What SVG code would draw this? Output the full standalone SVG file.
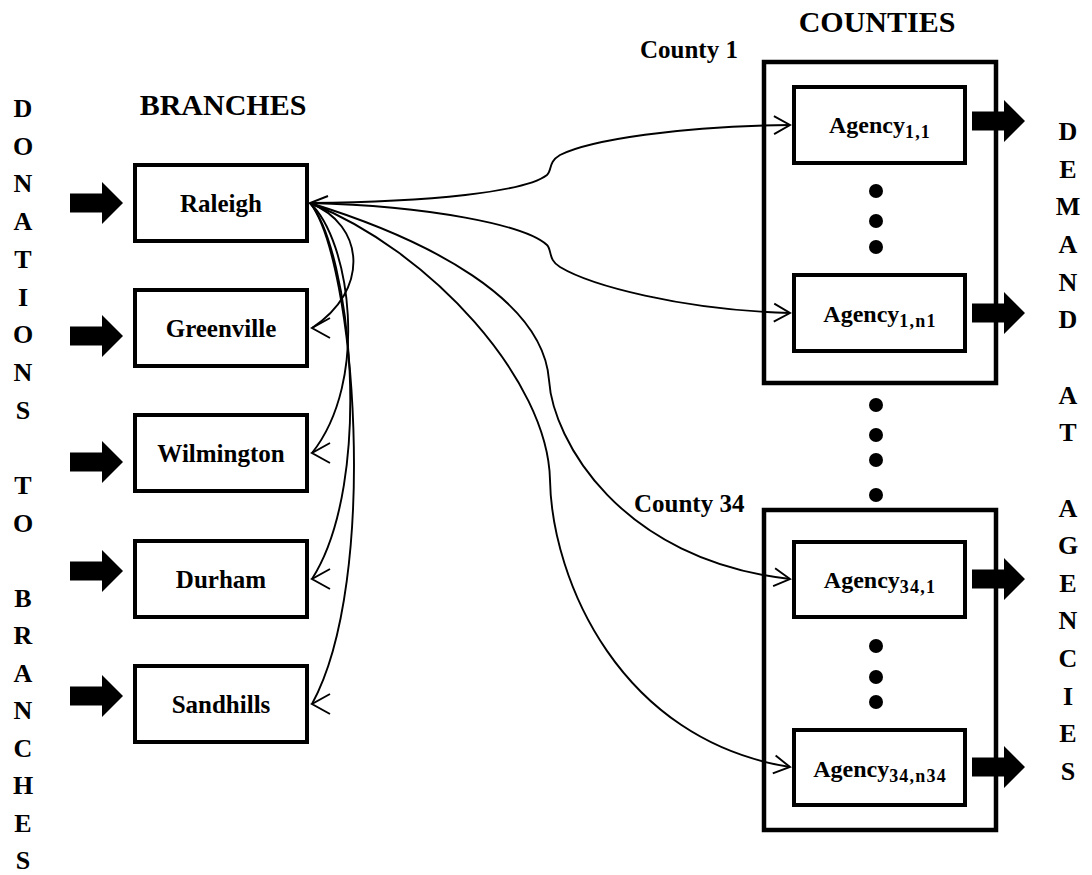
<svg xmlns="http://www.w3.org/2000/svg" xmlns:xlink="http://www.w3.org/1999/xlink" width="1092" height="875" viewBox="0 0 1092 875">
<style>
.box{fill:#fff;stroke:#000;stroke-width:4}
.cbox{fill:none;stroke:#000;stroke-width:4.5}
.t{font-family:"Liberation Serif","Times New Roman",serif;font-weight:bold;fill:#000}
.title{font-size:30px}
.node{font-size:25px}
.ag{font-size:24px}
.lab{font-size:25px}
.vl{font-size:26px}
.sub{font-size:18px;letter-spacing:1.2px}
.conn{fill:none;stroke:#000;stroke-width:1.9}
.dot{fill:#000}
</style>
<defs>
<path id="blk" d="M0,-9.5 H32 V-21 L53,0 L32,21 V9.5 H0 Z" fill="#000"/>
<marker id="toBranch" markerUnits="userSpaceOnUse" viewBox="-20 -15 40 30" markerWidth="40" markerHeight="30" refX="0" refY="0" orient="0">
<path d="M18,-10 L0,0 L18,10" fill="none" stroke="#000" stroke-width="1.9"/>
</marker>
<marker id="toAgency" markerUnits="userSpaceOnUse" viewBox="-20 -15 40 30" markerWidth="40" markerHeight="30" refX="0" refY="0" orient="auto">
<path d="M-16,-9 L0,0 L-16,9" fill="none" stroke="#000" stroke-width="1.9"/>
</marker>
</defs>
<rect width="1092" height="875" fill="#fff"/>

<g id="title-branches"><text class="t title" x="223" y="115" text-anchor="middle">BRANCHES</text></g>
<g id="title-counties"><text class="t title" x="877" y="32" text-anchor="middle">COUNTIES</text></g>

<g id="label-donations">
<text class="t vl" text-anchor="middle"><tspan x="23" y="117">D</tspan><tspan x="23" y="155">O</tspan><tspan x="23" y="192">N</tspan><tspan x="23" y="230">A</tspan><tspan x="23" y="268">T</tspan><tspan x="23" y="306">I</tspan><tspan x="23" y="343">O</tspan><tspan x="23" y="381">N</tspan><tspan x="23" y="419">S</tspan><tspan x="23" y="494">T</tspan><tspan x="23" y="532">O</tspan><tspan x="23" y="607">B</tspan><tspan x="23" y="644">R</tspan><tspan x="23" y="682">A</tspan><tspan x="23" y="719">N</tspan><tspan x="23" y="757">C</tspan><tspan x="23" y="794">H</tspan><tspan x="23" y="832">E</tspan><tspan x="23" y="869">S</tspan></text>
</g>
<g id="label-demand">
<text class="t vl" text-anchor="middle"><tspan x="1068" y="140">D</tspan><tspan x="1068" y="178">E</tspan><tspan x="1068" y="215">M</tspan><tspan x="1068" y="253">A</tspan><tspan x="1068" y="291">N</tspan><tspan x="1068" y="328">D</tspan><tspan x="1068" y="404">A</tspan><tspan x="1068" y="441">T</tspan><tspan x="1068" y="517">A</tspan><tspan x="1068" y="554">G</tspan><tspan x="1068" y="592">E</tspan><tspan x="1068" y="629">N</tspan><tspan x="1068" y="667">C</tspan><tspan x="1068" y="705">I</tspan><tspan x="1068" y="742">E</tspan><tspan x="1068" y="780">S</tspan></text>
</g>

<g id="inflows">
<use xlink:href="#blk" href="#blk" transform="translate(70,203)"/>
<use xlink:href="#blk" href="#blk" transform="translate(70,336)"/>
<use xlink:href="#blk" href="#blk" transform="translate(70,462)"/>
<use xlink:href="#blk" href="#blk" transform="translate(70,571)"/>
<use xlink:href="#blk" href="#blk" transform="translate(70,696)"/>
</g>

<g id="branch-raleigh"><rect class="box" x="135" y="165" width="172" height="76"/><text class="t node" x="221" y="212" text-anchor="middle">Raleigh</text></g>
<g id="branch-greenville"><rect class="box" x="135" y="290" width="172" height="76"/><text class="t node" x="221" y="337" text-anchor="middle">Greenville</text></g>
<g id="branch-wilmington"><rect class="box" x="135" y="415" width="172" height="76"/><text class="t node" x="221" y="462" text-anchor="middle">Wilmington</text></g>
<g id="branch-durham"><rect class="box" x="135" y="541" width="172" height="76"/><text class="t node" x="221" y="588" text-anchor="middle">Durham</text></g>
<g id="branch-sandhills"><rect class="box" x="135" y="666" width="172" height="76"/><text class="t node" x="221" y="713" text-anchor="middle">Sandhills</text></g>

<g id="county-1">
<text class="t lab" x="640" y="58">County 1</text>
<rect class="cbox" x="764" y="62" width="232" height="321"/>
<circle class="dot" cx="876" cy="191" r="7"/><circle class="dot" cx="876" cy="221" r="7"/><circle class="dot" cx="876" cy="247" r="7"/>
</g>
<g id="agency-1-1"><rect class="box" x="794" y="87" width="171" height="76"/><text class="t ag" x="880" y="133" text-anchor="middle">Agency<tspan class="sub" dy="5">1,1</tspan></text></g>
<g id="agency-1-n1"><rect class="box" x="794" y="275" width="171" height="76"/><text class="t ag" x="880" y="322" text-anchor="middle">Agency<tspan class="sub" dy="5">1,n1</tspan></text></g>

<g id="county-dots">
<circle class="dot" cx="876" cy="405" r="7"/><circle class="dot" cx="876" cy="435" r="7"/><circle class="dot" cx="876" cy="460" r="7"/><circle class="dot" cx="876" cy="495" r="7"/>
</g>

<g id="county-34">
<text class="t lab" x="634" y="512">County 34</text>
<rect class="cbox" x="764" y="510" width="232" height="320"/>
<circle class="dot" cx="876" cy="646" r="7"/><circle class="dot" cx="876" cy="677" r="7"/><circle class="dot" cx="876" cy="702" r="7"/>
</g>
<g id="agency-34-1"><rect class="box" x="794" y="542" width="171" height="75"/><text class="t ag" x="880" y="588" text-anchor="middle">Agency<tspan class="sub" dy="5">34,1</tspan></text></g>
<g id="agency-34-n34"><rect class="box" x="794" y="730" width="171" height="75"/><text class="t ag" x="880" y="777" text-anchor="middle">Agency<tspan class="sub" dy="5">34,n34</tspan></text></g>

<g id="outflows">
<use xlink:href="#blk" href="#blk" transform="translate(972,121)"/>
<use xlink:href="#blk" href="#blk" transform="translate(972,313)"/>
<use xlink:href="#blk" href="#blk" transform="translate(972,579)"/>
<use xlink:href="#blk" href="#blk" transform="translate(972,767)"/>
</g>

<g id="connectors">
<path class="conn" d="M310,203 C365,225 370,290 312,328" marker-end="url(#toBranch)"/>
<path class="conn" d="M310,203 C350,240 370,380 312,453" marker-end="url(#toBranch)"/>
<path class="conn" d="M310,203 C350,250 375,480 312,579" marker-end="url(#toBranch)"/>
<path class="conn" d="M310,203 C355,260 380,580 312,704" marker-end="url(#toBranch)"/>
<polyline class="conn" points="328,196 310,203 328,210"/>
<path class="conn" d="M310,203 C430,202 525,192 547,175 C552,171 548,162 560,155 C590,140 680,126 790,125" marker-end="url(#toAgency)"/>
<path class="conn" d="M310,203 C430,206 525,225 547,245 C552,250 548,260 560,267 C590,285 680,310 790,313" marker-end="url(#toAgency)"/>
<path class="conn" d="M310,203 C430,240 543,300 549,380 C553,440 620,560 790,579" marker-end="url(#toAgency)"/>
<path class="conn" d="M310,203 C430,250 548,380 550,480 C552,580 620,740 790,767" marker-end="url(#toAgency)"/>
</g>
</svg>
